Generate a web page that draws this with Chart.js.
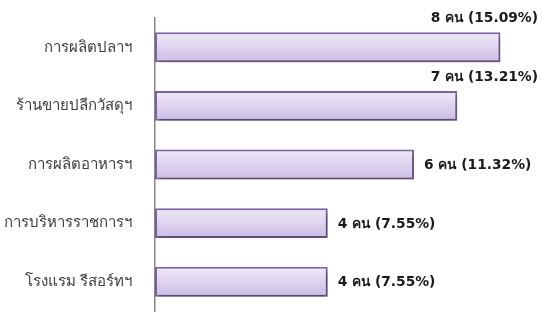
<!DOCTYPE html>
<html>
<head>
<meta charset="utf-8">
<script src="https://cdn.jsdelivr.net/npm/chart.js@4"></script>
<style>
  html, body { margin: 0; padding: 0; background: #ffffff; }
  canvas { display: block; }
</style>
</head>
<body>
<canvas id="jobChart" width="542" height="313"></canvas>
<script>
// ข้อมูลของกราฟ
const categories = ['การผลิตปลาฯ', 'ร้านขายปลีกวัสดุฯ', 'การผลิตอาหารฯ', 'การบริหารราชการฯ', 'โรงแรม รีสอร์ทฯ'];
const counts = [8, 7, 6, 4, 4];
const percents = ['15.09', '13.21', '11.32', '7.55', '7.55'];
const valueLabels = counts.map((n, i) => n + ' คน (' + percents[i] + '%)');

const fontFamily = "'Noto Sans', 'DejaVu Sans', sans-serif";
const valueFont = "bold 13.8px 'DejaVu Sans', sans-serif";

// เงาของแท่ง
const shadowPlugin = {
    id: 'barShadow',
    beforeDatasetDraw(chart) {
        const ctx = chart.ctx;
        ctx.save();
        ctx.shadowColor = 'rgba(0,0,0,0.35)';
        ctx.shadowBlur = 5;
        ctx.shadowOffsetX = 2;
        ctx.shadowOffsetY = 3;
    },
    afterDatasetDraw(chart) {
        chart.ctx.restore();
    }
};

// ป้ายค่าที่ปลายแท่ง ถ้าไม่พอที่ก็ย้ายขึ้นไปอยู่เหนือแท่ง
const valueLabelPlugin = {
    id: 'valueLabels',
    afterDatasetsDraw(chart) {
        const ctx = chart.ctx;
        const meta = chart.getDatasetMeta(0);
        ctx.save();
        ctx.font = valueFont;
        ctx.fillStyle = '#1a1a1a';
        ctx.textBaseline = 'middle';
        meta.data.forEach((bar, i) => {
            const text = valueLabels[i];
            const w = ctx.measureText(text).width;
            let x = bar.x + 10;
            let y = bar.y + 1;
            if (x + w > chart.width - 3) {
                x = chart.width - 4 - w;
                y = bar.y - bar.height / 2 - 14;
            }
            ctx.fillText(text, x, y);
        });
        ctx.restore();
    }
};

const ctx = document.getElementById('jobChart').getContext('2d');

const jobChart = new Chart(ctx, {
    type: 'bar',
    data: {
        labels: categories,
        datasets: [{
            data: counts,
            backgroundColor: function(c) {
                const chart = c.chart;
                const y = chart.scales && chart.scales.y;
                if (!chart.chartArea || !y || c.dataIndex === undefined) return '#ddd3ee';
                const cy = y.getPixelForValue(c.dataIndex);
                const g = chart.ctx.createLinearGradient(0, cy - 15, 0, cy + 15);
                g.addColorStop(0, '#eeeaf7');
                g.addColorStop(1, '#cbbde4');
                return g;
            },
            borderColor: '#8064a2',
            borderWidth: 2,
            borderSkipped: false,
            barPercentage: 0.51,
            categoryPercentage: 1.0
        }]
    },
    options: {
        indexAxis: 'y',
        responsive: false,
        animation: false,
        layout: { padding: { top: 18, right: 20, bottom: 2, left: 0 } },
        plugins: {
            legend: { display: false },
            tooltip: { enabled: false }
        },
        scales: {
            x: {
                display: false,
                min: 0,
                max: 8.5
            },
            y: {
                grid: { display: false },
                border: { display: true, color: '#868686', width: 1.5 },
                ticks: {
                    color: '#404040',
                    padding: 15,
                    font: { family: fontFamily, size: 15 }
                },
                afterFit(scale) {
                    scale.width = 155;
                    scale.paddingTop = 0;
                    scale.paddingBottom = 0;
                }
            }
        }
    },
    plugins: [shadowPlugin, valueLabelPlugin]
});
</script>
</body>
</html>
